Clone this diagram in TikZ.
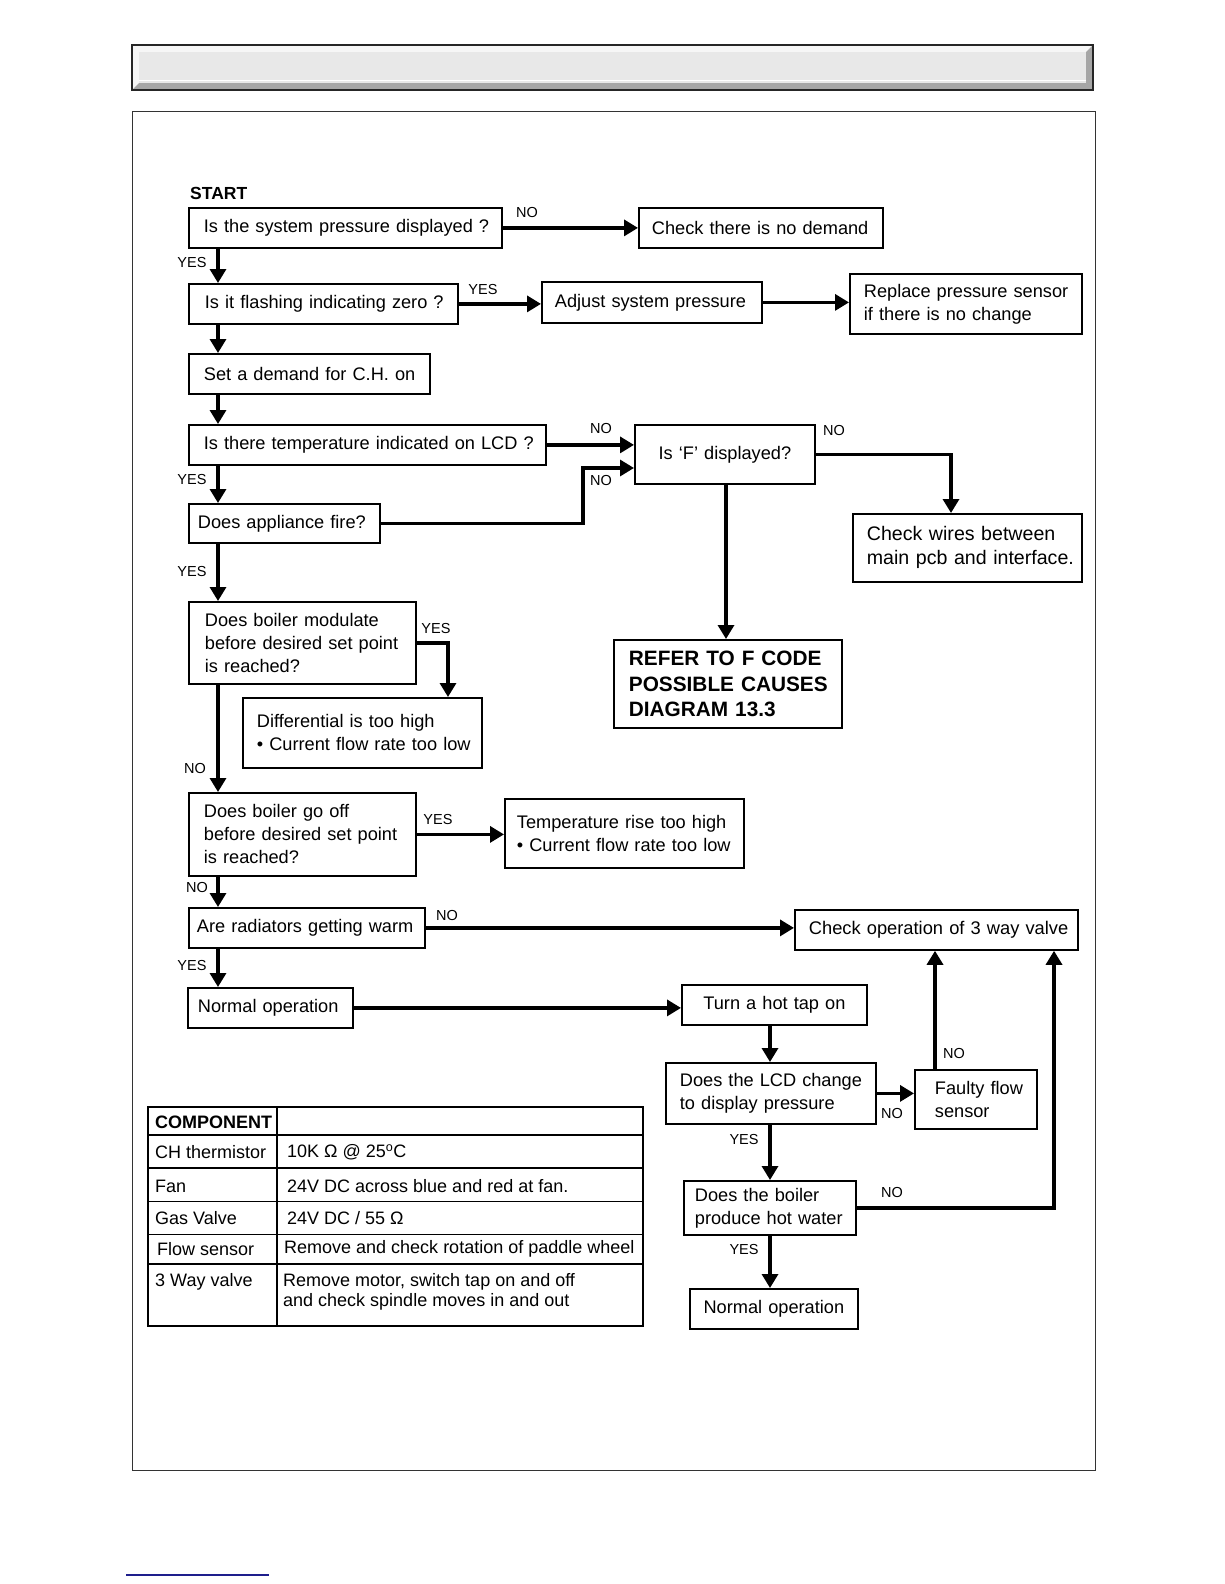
\documentclass[tikz,border=0pt]{standalone}
\usepackage{fontspec}
\setmainfont{Liberation Sans}
\usetikzlibrary{arrows.meta}
\newcommand\ftxt{\fontsize{18.2}{23}\selectfont}
\newcommand\flab{\fontsize{14.5}{17}\selectfont}
\newcommand\ftab{\fontsize{18}{20}\selectfont}
\newcommand\fbig{\fontsize{19.6}{24}\selectfont}
\newcommand\frefer{\fontsize{20.8}{25.5}\selectfont\bfseries}
\definecolor{bevlight}{HTML}{F6F6F6}
\definecolor{bevdark}{HTML}{A6A6A6}
\definecolor{bevface}{HTML}{E8E8E8}
\definecolor{navyline}{RGB}{30,30,140}
% #1 style, #2 name, #3 x0, #4 y0, #5 x1, #6 y1, #7 left pad, #8 text
\newcommand\mkbox[8][]{%
  \pgfmathsetmacro\bxw{#5-#3}%
  \pgfmathsetmacro\bxh{#6-#4}%
  \node[box, text width=\bxw pt, minimum height=\bxh pt, #1] (#2) at (#3,#4)
    {\rightskip=-40pt plus 1fil\leftskip=#7\relax #8\par};}
\newcommand\ctr{0pt plus 1fil\rightskip=0pt plus 1fil\parfillskip=0pt}
\begin{document}
\begin{tikzpicture}[x=1pt,y=-1pt,
  box/.style={draw, line width=1.8pt, anchor=north west, inner xsep=0pt, inner ysep=0pt, align=left, font=\ftxt},
  arr/.style={line width=3.3pt, -{Triangle[length=14pt,width=16pt]}},
  lab/.style={font=\flab, inner sep=0pt},
  cell/.style={font=\ftab, inner sep=0pt, anchor=west, align=left}]
\useasboundingbox (0,0) rectangle (1224,1584);

% header bar
\fill[bevlight] (133,89) -- (133,46) -- (1092,46) -- (1086,52) -- (139,52) -- (139,83) -- cycle;
\fill[bevdark] (133,89) -- (1092,89) -- (1092,46) -- (1086,52) -- (1086,83) -- (139,83) -- cycle;
\fill[bevface] (139,52) rectangle (1086,83);
\draw[white, line width=1pt] (139,81) -- (1086,81);
\draw[line width=1.5pt, black!85] (132,45) rectangle (1093,90);

% main frame
\draw[line width=1pt, black!80] (132,112) rectangle (1095,1470);

% helper x positions
\coordinate (cx) at (218,0);
\coordinate (fx) at (726,0);
\coordinate (wx) at (951,0);
\coordinate (dx) at (448,0);
\coordinate (tx) at (770,0);
\coordinate (vx1) at (935,0);
\coordinate (vx2) at (1054,0);
\coordinate (jx) at (583,468);

\node[font=\fontsize{17.5}{20}\selectfont\bfseries, inner sep=0pt, anchor=west] (start) at (190,193.5) {START};

\mkbox{b1}{188}{207}{501}{247}{15pt}{Is the system pressure displayed ?}
\mkbox{nodem}{638}{207}{882}{247}{13pt}{Check there is no demand}
\mkbox{b2}{188}{283}{457}{323}{16pt}{Is it flashing indicating zero ?}
\mkbox{adj}{541}{281}{761}{322}{13pt}{Adjust system pressure}
\mkbox{repl}{849}{273}{1081}{333}{14pt}{Replace pressure sensor\\if there is no change}
\mkbox{b3}{188}{353}{429}{393}{15pt}{Set a demand for C.H. on}
\mkbox{b4}{188}{424}{545}{464}{15pt}{Is there temperature indicated on LCD ?}
\mkbox{fq}{634}{424}{814}{483}{\ctr}{Is ‘F’ displayed?}
\mkbox{fire}{188}{503}{379}{542}{9pt}{Does appliance fire?}
\mkbox[font=\fbig]{wires}{852}{513}{1081}{581}{14pt}{Check wires between\\main pcb and interface.}
\mkbox{mod}{188}{601}{415}{683}{16pt}{Does boiler modulate\\before desired set point\\is reached?}
\mkbox{diff}{242}{697}{481}{767}{14pt}{Differential is too high\\• Current flow rate too low}
\mkbox[font=\frefer]{refer}{613}{639}{841}{727}{15pt}{REFER TO F CODE\\POSSIBLE CAUSES\\DIAGRAM 13.3}
\mkbox{gooff}{188}{792}{415}{875}{15pt}{Does boiler go off\\before desired set point\\is reached?}
\mkbox{temp}{504}{798}{743}{867}{12pt}{Temperature rise too high\\• Current flow rate too low}
\mkbox{rad}{188}{907}{424}{947}{8pt}{Are radiators getting warm}
\mkbox[font=\fontsize{18.3}{23}\selectfont]{valve}{794}{909}{1077}{949}{14pt}{Check operation of 3 way valve}
\mkbox{norm1}{187}{987}{352}{1027}{10pt}{Normal operation}
\mkbox{tap}{681}{984}{866}{1024}{\ctr}{Turn a hot tap on}
\mkbox{lcd}{665}{1062}{875}{1123}{14pt}{Does the LCD change\\to display pressure}
\mkbox{faulty}{914}{1069}{1036}{1128}{20pt}{Faulty flow\\sensor}
\mkbox{hot}{683}{1180}{855}{1234}{11pt}{Does the boiler\\produce hot water}
\mkbox{norm2}{689}{1288}{857}{1328}{\ctr}{Normal operation}

% connectors
\draw[arr] (b1) -- (nodem);
\draw[arr] (b1.south -| cx) -- (b2.north -| cx);
\draw[arr] (b2.east) -- (b2.east -| adj.west);
\draw[arr] (adj.east) -- (adj.east -| repl.west);
\draw[arr] (b2.south -| cx) -- (b3.north -| cx);
\draw[arr] (b3.south -| cx) -- (b4.north -| cx);
\draw[arr] (b4.east) -- (b4.east -| fq.west);
\draw[arr] (fire.east) -| (jx) -- (jx -| fq.west);
\draw[arr] (fq.east) -| (wires.north -| wx);
\draw[arr] (fq.south -| fx) -- (refer.north -| fx);
\draw[arr] (b4.south -| cx) -- (fire.north -| cx);
\draw[arr] (fire.south -| cx) -- (mod.north -| cx);
\draw[arr] (mod.east) -| (diff.north -| dx);
\draw[arr] (mod.south -| cx) -- (gooff.north -| cx);
\draw[arr] (gooff.east) -- (gooff.east -| temp.west);
\draw[arr] (gooff.south -| cx) -- (rad.north -| cx);
\draw[arr] (rad.east) -- (rad.east -| valve.west);
\draw[arr] (rad.south -| cx) -- (norm1.north -| cx);
\draw[arr] (norm1.east) -- (norm1.east -| tap.west);
\draw[arr] (tap.south -| tx) -- (lcd.north -| tx);
\draw[arr] (lcd.east) -- (lcd.east -| faulty.west);
\draw[arr] (faulty.north -| vx1) -- (valve.south -| vx1);
\draw[arr] (lcd.south -| tx) -- (hot.north -| tx);
\draw[arr] (hot.east) -| (valve.south -| vx2);
\draw[arr] (hot.south -| tx) -- (norm2.north -| tx);

% labels
\node[lab] (l1) at (192,263) {YES};
\node[lab] (l2) at (527,213) {NO};
\node[lab] (l3) at (483,290) {YES};
\node[lab] (l4) at (601,429) {NO};
\node[lab] (l5) at (601,481) {NO};
\node[lab] (l6) at (834,431) {NO};
\node[lab] (l7) at (192,480) {YES};
\node[lab] (l8) at (192,572) {YES};
\node[lab] (l9) at (436,629) {YES};
\node[lab] (l10) at (195,768) {NO};
\node[lab] (l11) at (438,819) {YES};
\node[lab] (l12) at (197,887) {NO};
\node[lab] (l13) at (447,915) {NO};
\node[lab] (l14) at (192,965) {YES};
\node[lab] (l15) at (892,1113) {NO};
\node[lab] (l16) at (954,1053) {NO};
\node[lab] (l17) at (744,1139) {YES};
\node[lab] (l18) at (892,1192) {NO};
\node[lab] (l19) at (744,1249) {YES};

% table
\draw[line width=1.8pt] (148,1107) rectangle (643,1326);
\draw[line width=1.3pt] (277,1107) -- (277,1326);
\foreach \yy in {1135,1168,1201.5,1234.5,1264}
  \draw[line width=1.3pt] (148,\yy) -- (643,\yy);
\node[cell, font=\ftab\bfseries] (tc0) at (155,1122) {COMPONENT};
\node[cell] (tc1) at (155,1152) {CH thermistor};
\node[cell] (td1) at (287,1152) {10K Ω @ 25\textsuperscript{o}C};
\node[cell] (tc2) at (155,1186) {Fan};
\node[cell] (td2) at (287,1186) {24V DC across blue and red at fan.};
\node[cell] (tc3) at (155,1218) {Gas Valve};
\node[cell] (td3) at (287,1218) {24V DC / 55 Ω};
\node[cell] (tc4) at (157,1249) {Flow sensor};
\node[cell] (td4) at (284,1249) {Remove and check rotation of paddle wheel};
\node[cell] (tc5) at (155,1282) {3 Way valve};
\node[cell] (td5) at (283,1292) {Remove motor, switch tap on and off\\and check spindle moves in and out};

% footer line
\draw[navyline, line width=1.3pt] (126,1575) -- (269,1575);
\end{tikzpicture}
\end{document}
